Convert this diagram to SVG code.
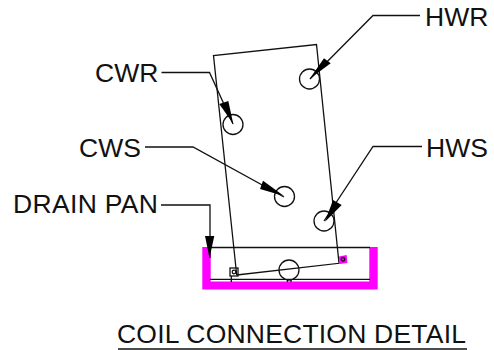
<svg xmlns="http://www.w3.org/2000/svg" width="494" height="350" viewBox="0 0 494 350">
<style>
text{font-family:"Liberation Sans",Arial,sans-serif;font-size:26.500px;fill:#111}
.l{fill:none;stroke:#111;stroke-width:1.3}
.c{fill:none;stroke:#111;stroke-width:1.3}
.h{fill:#000;stroke:none}
</style>
<rect width="494" height="350" fill="#fff"/>
<g id="drain-pan">
<path d="M202.300 247H210.700V281.500H369.300V247H377.700V289.500H202.300Z" fill="#f0f"/>
<path class="l" d="M210 247.500H370M210 279.300H370"/>
<path class="l" d="M231.300 276V282M287.500 279V282M291 279V282"/>
</g>
<g id="coil">
<path d="M339 256.500 346.700 255 347.300 263 340 264Z" fill="#f0f"/>
<path class="l" d="M236.700 275 213.500 55.500 316.500 44.500 339 263.300 236.700 275"/>
<rect x="230" y="268" width="8" height="8" class="l"/>
<circle cx="234" cy="272" r="1.800" class="c"/>
<circle cx="343" cy="259.300" r="1.800" class="c"/>
</g>
<g id="circles">
<circle cx="309.500" cy="79" r="10" class="c"/>
<circle cx="233" cy="124.500" r="10" class="c"/>
<circle cx="284.500" cy="196.500" r="10" class="c"/>
<circle cx="324" cy="221" r="10" class="c"/>
<circle cx="289" cy="270" r="10" class="c"/>
</g>
<g id="connectors">
<path class="l" d="M420 15.500H373L310 79"/>
<path class="h" d="M309.500 79 324 58.300 330.700 63.300Z"/>
<path class="l" d="M161.500 72.500H209.500L233 124"/>
<path class="h" d="M233.300 124 219.300 104 228.300 101Z"/>
<path class="l" d="M145 147H193L284 197"/>
<path class="h" d="M284 196 260 189 263 180.700Z"/>
<path class="l" d="M161 205H210V258"/>
<path class="h" d="M209.500 258 205 236 214.300 236Z"/>
<path class="l" d="M422 146.500H373L324 221"/>
<path class="h" d="M325 221.700 333 200 341.700 205Z"/>
<path class="l" d="M118 349H467"/>
</g>
<g id="labels">
<text x="95" y="82">CWR</text>
<text x="425" y="26">HWR</text>
<text x="79" y="156.500">CWS</text>
<text x="426" y="156.500">HWS</text>
<text x="13" y="213" textLength="145" lengthAdjust="spacing">DRAIN PAN</text>
<text x="117" y="342.500" textLength="349" lengthAdjust="spacing">COIL CONNECTION DETAIL</text>
</g>
</svg>
